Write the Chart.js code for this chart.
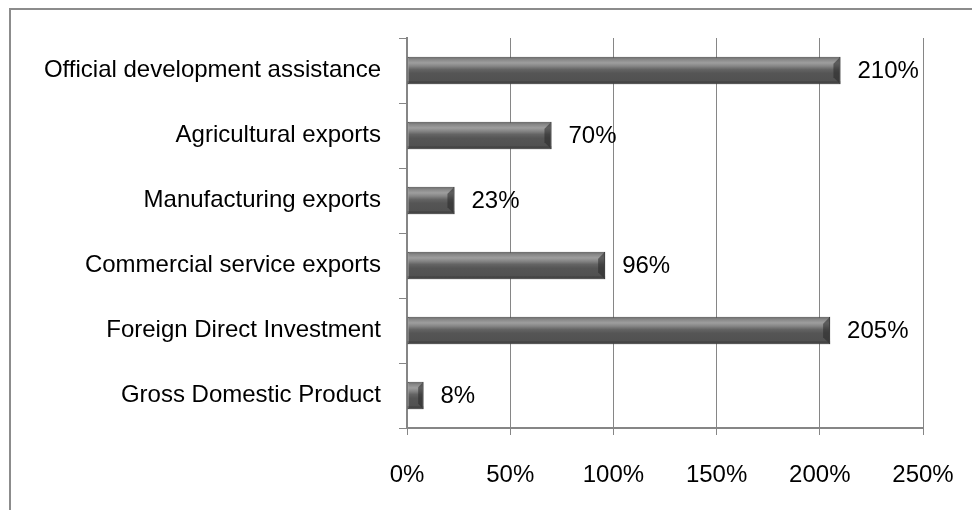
<!DOCTYPE html>
<html>
<head>
<meta charset="utf-8">
<script src="https://cdn.jsdelivr.net/npm/chart.js@4/dist/chart.umd.min.js"></script>
<style>
    html, body { margin: 0; padding: 0; background: #fff; overflow: hidden; }
    #marco {
        position: absolute; left: 9px; top: 8px; width: 980px; height: 520px;
        border-left: 2px solid #8c8c8c; border-top: 2px solid #8c8c8c;
    }
    #lienzo { position: absolute; left: 0; top: 0; }
</style>
</head>
<body>
<div id="marco"></div>
<canvas id="lienzo" width="972" height="510"></canvas>
<script>
const categorias = [
    'Official development assistance',
    'Agricultural exports',
    'Manufacturing exports',
    'Commercial service exports',
    'Foreign Direct Investment',
    'Gross Domestic Product'
];
const valores = [210, 70, 23, 96, 205, 8];
const ticksX = [0, 50, 100, 150, 200, 250];

const fuente = "'Liberation Sans', Arial, sans-serif";
const anchoCategoria = 0.84;
const anchoBarra = 0.5;

// Relleno con relieve: se calcula con la posición de la categoría en el eje y
function rellenoBarra(ctx) {
    const chart = ctx.chart;
    const ejeY = chart.scales.y;
    if (!ejeY || ctx.dataIndex === undefined || !chart.chartArea) return '#555555';
    const centro = ejeY.getPixelForValue(ctx.dataIndex);
    const paso = (ejeY.bottom - ejeY.top) / categorias.length;
    const alto = paso * anchoCategoria * anchoBarra;
    const y0 = centro - alto / 2;
    const g = chart.ctx.createLinearGradient(0, y0, 0, y0 + alto);
    g.addColorStop(0, '#6a6a6a');
    g.addColorStop(0.1, '#888888');
    g.addColorStop(0.22, '#9e9e9e');
    g.addColorStop(0.34, '#858585');
    g.addColorStop(0.46, '#646464');
    g.addColorStop(0.6, '#555555');
    g.addColorStop(0.88, '#515151');
    g.addColorStop(1, '#424242');
    return g;
}

// Bisel oscuro en el extremo derecho de cada barra
const bisel = {
    id: 'bisel',
    afterDatasetsDraw(chart) {
        const ctx = chart.ctx;
        chart.getDatasetMeta(0).data.forEach((bar) => {
            const h = bar.height;
            const top = bar.y - h / 2;
            const d = Math.min(7, (bar.x - bar.base) / 3);
            ctx.save();
            ctx.fillStyle = 'rgba(40,40,40,0.55)';
            ctx.beginPath();
            ctx.moveTo(bar.x, top);
            ctx.lineTo(bar.x - d, top + d);
            ctx.lineTo(bar.x - d, top + h - d);
            ctx.lineTo(bar.x, top + h);
            ctx.closePath();
            ctx.fill();
            ctx.fillStyle = 'rgba(60,60,60,0.35)';
            ctx.fillRect(bar.base, top + h - 3, bar.x - bar.base, 3);
            ctx.restore();
        });
    }
};

// Etiquetas de valor a la derecha de cada barra
const etiquetas = {
    id: 'etiquetas',
    afterDatasetsDraw(chart) {
        const ctx = chart.ctx;
        const meta = chart.getDatasetMeta(0);
        ctx.save();
        ctx.font = '24px ' + fuente;
        ctx.fillStyle = '#000';
        ctx.textBaseline = 'middle';
        ctx.textAlign = 'left';
        meta.data.forEach((bar, i) => {
            ctx.fillText(valores[i] + '%', bar.x + 17, bar.y + 1);
        });
        ctx.restore();
    }
};

new Chart(document.getElementById('lienzo'), {
    type: 'bar',
    data: {
        labels: categorias,
        datasets: [{
            data: valores,
            backgroundColor: rellenoBarra,
            borderColor: '#464646',
            borderWidth: 1,
            borderSkipped: false,
            categoryPercentage: anchoCategoria,
            barPercentage: anchoBarra
        }]
    },
    options: {
        indexAxis: 'y',
        responsive: false,
        animation: false,
        layout: { padding: { top: 38, right: 49, left: 0, bottom: 0 } },
        plugins: {
            legend: { display: false },
            tooltip: { enabled: false }
        },
        scales: {
            x: {
                min: 0,
                max: 250,
                afterBuildTicks: (axis) => { axis.ticks = ticksX.map(v => ({ value: v })); },
                afterFit: (axis) => {
                    axis.height = 82;
                    axis.paddingLeft = 0;
                    axis.paddingRight = 0;
                },
                grid: { color: '#868686', lineWidth: 1, tickLength: 7, drawTicks: true },
                border: { color: '#868686', width: 2 },
                ticks: {
                    padding: 26,
                    maxRotation: 0,
                    color: '#000',
                    font: { family: fuente, size: 24 },
                    callback: (v) => v + '%'
                }
            },
            y: {
                afterFit: (axis) => { axis.width = 407; },
                grid: { offset: true, drawOnChartArea: false, color: '#868686', tickLength: 8 },
                border: { color: '#868686', width: 2 },
                ticks: {
                    padding: 18,
                    color: '#000',
                    font: { family: fuente, size: 24 }
                }
            }
        }
    },
    plugins: [bisel, etiquetas]
});
</script>
</body>
</html>
